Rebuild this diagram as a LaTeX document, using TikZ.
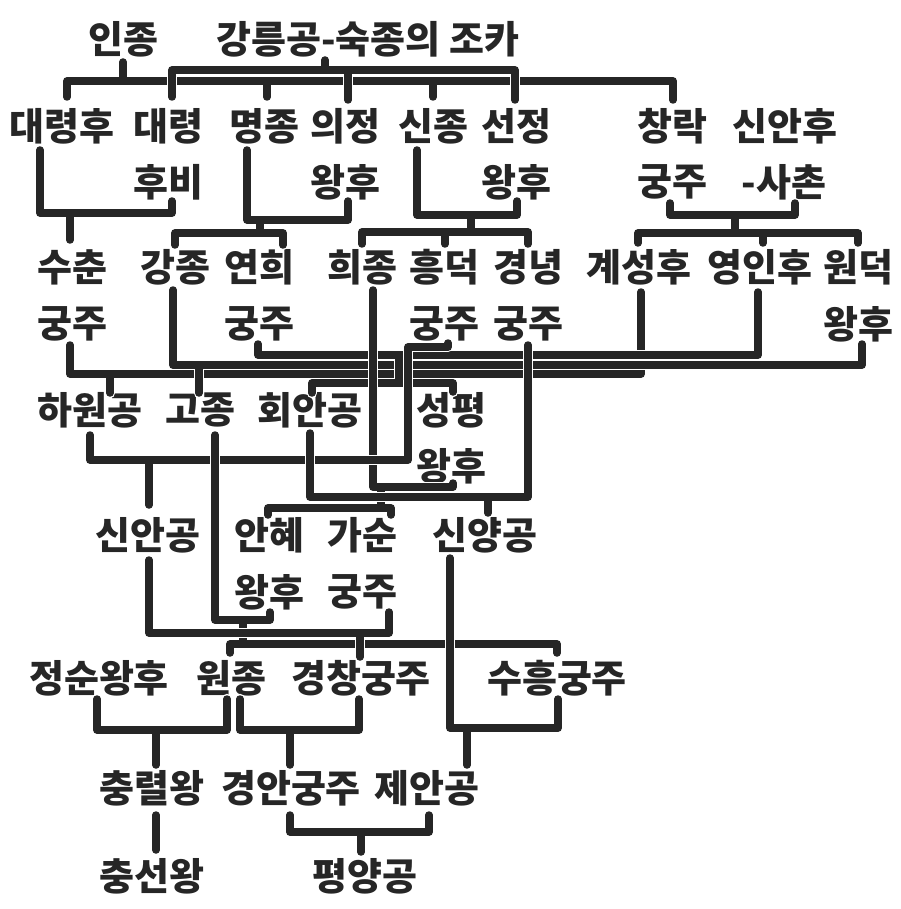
\documentclass[tikz,border=0pt]{standalone}
\usepackage{fontspec}
\newfontfamily\kr{Noto Sans CJK KR}
\definecolor{ink}{RGB}{38,38,38}
\begin{document}
\begin{tikzpicture}[x=1pt,y=-1pt,
  lbl/.style={font=\kr\bfseries\fontsize{38}{42}\selectfont, text=ink, inner sep=0pt, anchor=center},
  conn/.style={draw=ink, line width=7.5pt, line cap=round, line join=round,
    preaction={draw=white, line width=10.5pt, line cap=round, line join=round}}]
\fill[white] (0,0) rectangle (900,909);
\useasboundingbox (0,0) rectangle (900,909);
% row 1
\node[lbl] (injong) at (123,39) {인종};
\node[lbl] (gangr) at (368,39) {강릉공-숙종의 조카};
% row 2
\node[lbl] (daeryeonghu) at (62,126) {대령후};
\node[lbl] (daeryeong) at (168,126) {대령};
\node[lbl] (daeryeongb) at (168,182) {후비};
\node[lbl] (myeongjong) at (264,126) {명종};
\node[lbl] (uijeong) at (345,126) {의정};
\node[lbl] (uijeongb) at (345,182) {왕후};
\node[lbl] (sinjong) at (433,126) {신종};
\node[lbl] (seonjeong) at (516,126) {선정};
\node[lbl] (seonjeongb) at (516,182) {왕후};
\node[lbl] (changrak) at (672,126) {창락};
\node[lbl] (changrakb) at (672,182) {궁주};
\node[lbl] (sinanhu) at (785,126) {신안후};
\node[lbl] (sinanhub) at (784,182) {-사촌};
% row 4
\node[lbl] (suchun) at (72,267) {수춘};
\node[lbl] (suchunb) at (72,324) {궁주};
\node[lbl] (gangjong) at (175,267) {강종};
\node[lbl] (yeonhui) at (259,267) {연희};
\node[lbl] (yeonhuib) at (259,324) {궁주};
\node[lbl] (huijong) at (362,267) {희종};
\node[lbl] (heungdeok) at (444,267) {흥덕};
\node[lbl] (heungdeokb) at (444,324) {궁주};
\node[lbl] (gyeongnyeong) at (528,267) {경녕};
\node[lbl] (gyeongnyeongb) at (528,324) {궁주};
\node[lbl] (gyeseong) at (639,267) {계성후};
\node[lbl] (yeongin) at (760,267) {영인후};
\node[lbl] (wondeok) at (858,267) {원덕};
\node[lbl] (wondeokb) at (858,324) {왕후};
% row 5
\node[lbl] (hawon) at (90,410) {하원공};
\node[lbl] (gojong) at (200,410) {고종};
\node[lbl] (hoean) at (310,410) {회안공};
\node[lbl] (seongpyeong) at (451,410) {성평};
\node[lbl] (seongpyeongb) at (451,466) {왕후};
% row 6
\node[lbl] (sinan) at (148,535) {신안공};
\node[lbl] (anhye) at (269,535) {안혜};
\node[lbl] (anhyeb) at (269,592) {왕후};
\node[lbl] (gasun) at (362,535) {가순};
\node[lbl] (gasunb) at (362,592) {궁주};
\node[lbl] (sinyang) at (485,535) {신양공};
% row 7
\node[lbl] (jeongsun) at (99,678) {정순왕후};
\node[lbl] (wonjong) at (231,678) {원종};
\node[lbl] (gyeongchang) at (361,678) {경창궁주};
\node[lbl] (suheung) at (557,678) {수흥궁주};
% row 8
\node[lbl] (chungnyeol) at (152,788) {충렬왕};
\node[lbl] (gyeongan) at (291,788) {경안궁주};
\node[lbl] (jean) at (427,788) {제안공};
% row 9
\node[lbl] (chungseon) at (152,876) {충선왕};
\node[lbl] (pyeongyang) at (365,876) {평양공};

% level 1 -> 2
\draw[conn] (123,62) -- (123,81) (67,97) -- (67,81) -- (673,81) -- (673,100)
  (267,81) -- (267,97) (433,81) -- (433,97);
\draw[conn] (325,60) -- (325,70) (172,97) -- (172,70) -- (515,70) -- (515,100)
  (348,70) -- (348,100);
% level 2 -> 3
\draw[conn] (40,150) -- (40,213) -- (172,213) -- (172,201) (70,213) -- (70,240);
\draw[conn] (247,150) -- (247,220) -- (348,220) -- (348,201) (260,220) -- (260,233)
  (175,245) -- (175,233) -- (283,233) -- (283,245);
\draw[conn] (417,150) -- (417,215) -- (517,215) -- (517,201) (471,215) -- (471,232)
  (362,244) -- (362,232) -- (528,232) -- (528,244) (445,232) -- (445,244);
\draw[conn] (670,203) -- (670,215) -- (795,215) -- (795,203) (735,215) -- (735,233)
  (638,243) -- (638,233) -- (858,233) -- (858,243) (763,233) -- (763,243);
% level 3 -> 4
\draw[conn] (70,345) -- (70,374) -- (641,374) -- (641,292) (110,374) -- (110,393);
\draw[conn] (173,290) -- (173,365) -- (862,365) -- (862,344) (199,365) -- (199,393);
\draw[conn] (258,344) -- (258,355) -- (758,355) -- (758,292) (399,355) -- (399,383)
  (312,393) -- (312,383) -- (453,383) -- (453,392);
\draw[conn] (373,290) -- (373,487) -- (453,487) -- (453,483) (381,487) -- (381,508)
  (268,515) -- (268,508) -- (391,508) -- (391,515);
\draw[conn] (448,343) -- (448,347) -- (408,347) -- (408,460) -- (90,460) -- (90,435)
  (149,460) -- (149,505);
\draw[conn] (528,345) -- (528,497) -- (310,497) -- (310,433) (488,497) -- (488,513);
% level 4 -> 5
\draw[conn] (215,435) -- (215,620) -- (270,620) -- (270,612) (243,620) -- (243,644)
  (230,653) -- (230,644) -- (557,644) -- (557,653);
\draw[conn] (149,560) -- (149,633) -- (389,633) -- (389,612) (360,633) -- (360,657);
% level 5 -> 6
\draw[conn] (450,558) -- (450,728) -- (558,728) -- (558,699) (467,728) -- (467,765);
\draw[conn] (97,699) -- (97,730) -- (227,730) -- (227,699) (156,730) -- (156,765);
\draw[conn] (240,699) -- (240,730) -- (359,730) -- (359,699) (290,730) -- (290,765);
% level 6 -> 7
\draw[conn] (290,815) -- (290,832) -- (429,832) -- (429,815) (361,832) -- (361,852);
\draw[conn] (156,815) -- (156,850);
\end{tikzpicture}
\end{document}
